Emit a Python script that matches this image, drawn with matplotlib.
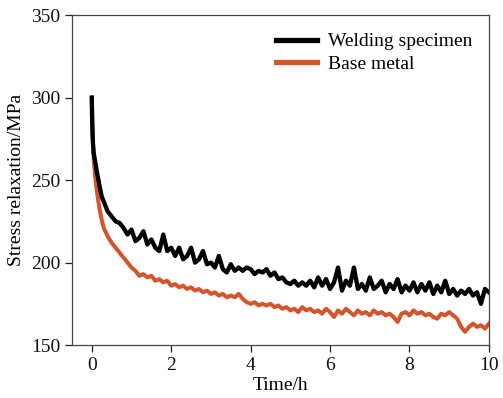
import matplotlib
matplotlib.use("Agg")
import matplotlib.pyplot as plt
import numpy as np

plt.rcParams['font.family'] = ['Liberation Serif', 'DejaVu Serif']

# Welding specimen (black)
t_weld = [0, 0.01, 0.03, 0.05, 0.08, 0.12, 0.16, 0.2, 0.25] + [round(0.3 + 0.1 * i, 2) for i in range(98)]
v_weld = [300, 285, 272, 266, 262, 256, 251, 246, 240,
          237, 231, 228, 225, 224, 221, 217, 220, 213, 215,
          219, 211, 214, 209, 207, 217, 207, 209, 204, 209,
          202, 204, 209, 200, 202, 207, 199, 200, 197, 204,
          196, 194, 199, 195, 197, 195, 197, 196, 193, 195,
          194, 196, 192, 194, 190, 191, 188, 187, 189, 186,
          188, 186, 189, 185, 191, 186, 190, 184, 188, 197,
          183, 189, 186, 197, 184, 187, 183, 191, 184, 186,
          189, 182, 187, 184, 190, 182, 186, 183, 188, 182,
          187, 183, 188, 181, 186, 182, 189, 181, 184, 180,
          183, 181, 184, 180, 182, 175, 184, 182]

# Base metal (orange)
t_base = [0, 0.02, 0.05, 0.08, 0.12, 0.16, 0.2, 0.25] + [round(0.3 + 0.1 * i, 2) for i in range(98)]
v_base = [300, 278, 262, 254, 245, 238, 232, 226,
          221, 216, 212, 209, 206, 203, 200, 197, 195, 192,
          193, 191, 192, 189, 190, 188, 189, 186, 187, 185,
          186, 184, 185, 183, 184, 182, 183, 181, 182, 180,
          181, 179, 180, 179, 181, 178, 176, 175, 176, 174,
          175, 174, 175, 173, 174, 172, 173, 171, 172, 170,
          173, 171, 172, 170, 171, 169, 172, 170, 167, 171,
          169, 172, 170, 168, 171, 169, 170, 168, 171, 169,
          170, 168, 169, 167, 164, 169, 170, 168, 171, 169,
          170, 168, 169, 167, 166, 169, 168, 170, 168, 166,
          161, 158, 161, 163, 161, 162, 160, 163]

x_ticks = [0, 2, 4, 6, 8, 10]
y_ticks = [150, 200, 250, 300, 350]

fig = plt.figure(figsize=(5.03, 3.98), dpi=100)
ax = fig.add_axes([0.143, 0.133, 0.829, 0.829])

ax.plot(t_weld, v_weld, color='#000000', lw=3.1, label='Welding specimen', zorder=3)
ax.plot(t_base, v_base, color='#D4552B', lw=2.9, label='Base metal', zorder=2)

ax.set_xlim(-0.5, 10)
ax.set_ylim(150, 350)
ax.set_xticks(x_ticks)
ax.set_yticks(y_ticks)
ax.tick_params(axis='both', labelsize=14, direction='out', length=5, width=0.9, colors='#222222')
ax.tick_params(axis='both', labelcolor='#111111')
for s in ax.spines.values():
    s.set_color('#444444')
    s.set_linewidth(0.9)

ax.set_xlabel('Time/h', fontsize=14, labelpad=2)
ax.set_ylabel('Stress relaxation/MPa', fontsize=14, labelpad=4)

leg = ax.legend(loc='upper right', frameon=False, fontsize=14, handlelength=2.1,
                handletextpad=0.55, labelspacing=0.25, borderaxespad=0.25,
                bbox_to_anchor=(0.99, 0.985))
for h in leg.get_lines():
    h.set_linewidth(3.8)

fig.savefig('out.png', dpi=100)
